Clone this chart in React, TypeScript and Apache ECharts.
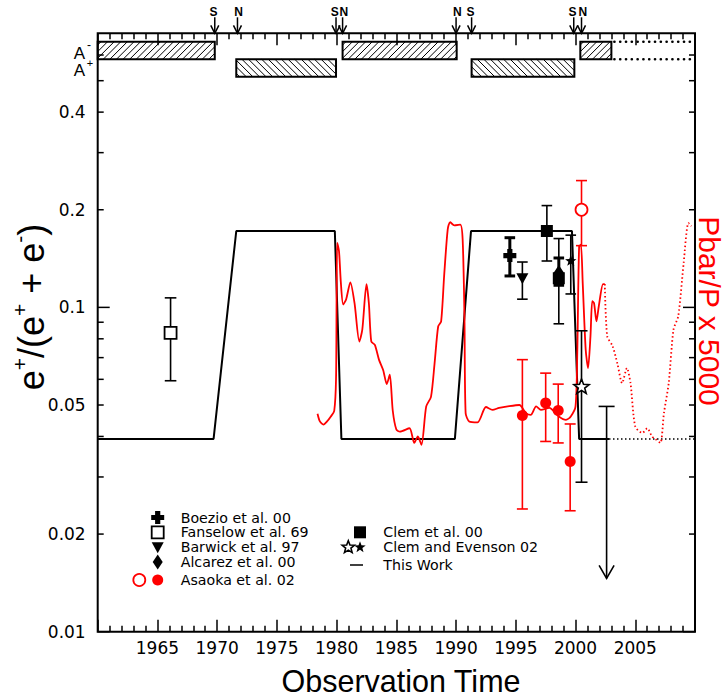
import React, { useEffect, useRef } from "react";
import * as echarts from "echarts";

const X_MIN = 1960;
const X_MAX = 2010;
const Y_MIN = 0.01;
const Y_MAX = 0.7;

const yLabelValues = [0.01, 0.02, 0.05, 0.1, 0.2, 0.4];
const yMajorTicks = [0.01, 0.1];
const yMinorTicks = [0.02, 0.03, 0.04, 0.05, 0.06, 0.07, 0.08, 0.09, 0.2, 0.3, 0.4, 0.5, 0.6];

// solar magnetic polarity epochs [start, end]
const aMinusEpochs = [[1960, 1969.8], [1980.5, 1990.05], [2000.4, 2003.0]];
const aPlusEpochs = [[1971.6, 1979.95], [1991.3, 1999.9]];
const aMinusProjected = [[2003.0, 2010]];
const sReversals = [1969.8, 1979.95, 1991.3, 1999.85];
const nReversals = [1971.7, 1980.5, 1990.0, 2000.5];

// This Work model
const thisWorkSolid = [
  [1960, 0.0393], [1969.7, 0.0393], [1971.6, 0.172], [1979.85, 0.172], [1980.4, 0.0393],
  [1989.9, 0.0393], [1991.25, 0.172], [1999.7, 0.172], [2000.3, 0.0393], [2002.8, 0.0393],
];
const thisWorkDotted = [[2002.8, 0.0393], [2010, 0.0393]];
const thisWorkLimit = [[2002.6, 0.0495, 0.0146]];

// Pbar/P x 5000
const pbarSolid = [
  [1978.4, 0.047], [1978.6, 0.0445], [1978.9, 0.0435], [1979.2, 0.0445], [1979.5, 0.046],
  [1979.8, 0.048], [1979.95, 0.06], [1980.0, 0.11], [1980.05, 0.158], [1980.2, 0.149],
  [1980.35, 0.12], [1980.55, 0.102], [1980.8, 0.106], [1981.15, 0.1195], [1981.5, 0.103],
  [1981.9, 0.0785], [1982.15, 0.0854], [1982.5, 0.118], [1982.7, 0.103], [1982.9, 0.0785],
  [1983.2, 0.0766], [1983.55, 0.0689], [1983.9, 0.064], [1984.2, 0.058], [1984.45, 0.062],
  [1984.7, 0.048], [1985.0, 0.042], [1985.3, 0.0414], [1986.1, 0.0424], [1986.5, 0.0382],
  [1986.8, 0.04], [1987.1, 0.0377], [1987.5, 0.0495], [1987.9, 0.053], [1988.2, 0.0672],
  [1988.5, 0.0873], [1988.75, 0.0906], [1989.0, 0.125], [1989.3, 0.174], [1989.5, 0.183],
  [1989.85, 0.179], [1990.35, 0.18], [1990.55, 0.162], [1990.7, 0.094], [1990.8, 0.0472],
  [1991.1, 0.0445], [1991.8, 0.0442], [1992.5, 0.0493], [1993.05, 0.0483], [1993.6, 0.049],
  [1994.45, 0.0496], [1995.3, 0.05], [1995.85, 0.0472], [1996.25, 0.0466], [1996.7, 0.0495],
  [1997.1, 0.0483], [1997.8, 0.049], [1998.6, 0.0461], [1999.2, 0.045], [1999.6, 0.0461],
  [2000.0, 0.0495], [2000.15, 0.074], [2000.3, 0.154], [2000.45, 0.156], [2000.6, 0.119],
  [2000.85, 0.074], [2001.05, 0.065], [2001.25, 0.0815], [2001.4, 0.1045], [2001.55, 0.103],
  [2001.75, 0.0906], [2001.95, 0.101], [2002.3, 0.118], [2002.45, 0.118],
];
const pbarDotted = [
  [2002.45, 0.118], [2002.65, 0.0815], [2003.1, 0.076], [2003.5, 0.0672], [2003.9, 0.0584],
  [2004.3, 0.065], [2004.6, 0.0584], [2005.0, 0.0429], [2005.6, 0.041], [2006.0, 0.0424],
  [2006.4, 0.04], [2006.7, 0.0392], [2007.1, 0.0382], [2007.4, 0.0472], [2007.8, 0.0584],
  [2008.2, 0.0854], [2008.6, 0.094], [2009.05, 0.137], [2009.45, 0.182], [2009.7, 0.178],
];

// measurements: [year, value, low, high]
const boezio = [[1994.5, 0.1445, 0.125, 0.164]];
const fanselow = [[1966.1, 0.0834, 0.0594, 0.107]];
const barwick = [[1995.55, 0.123, 0.106, 0.138]];
const alcaraz = [[1998.6, 0.128, 0.117, 0.142]];
const clem = [[1997.6, 0.172, 0.139, 0.206], [1998.6, 0.123, 0.089, 0.163]];
const clemEvensonFilled = [[1999.6, 0.139, 0.11, 0.167]];
const clemEvensonOpen = [[2000.5, 0.0568, 0.0289, 0.0847]];
const asaokaOpen = [[2000.5, 0.2, 0.155, 0.246]];
const asaokaFilled = [
  [1995.55, 0.0464, 0.0239, 0.069], [1997.5, 0.0507, 0.0386, 0.0627],
  [1998.55, 0.0481, 0.0382, 0.058], [1999.55, 0.0335, 0.0236, 0.0437],
];

const FONT = "'Liberation Sans', Arial, sans-serif";
const FONT_NUM = "'DejaVu Sans', sans-serif";
const RED = "#ff0000";

function starPoints(cx: number, cy: number, R: number, r: number) {
  const pts: number[][] = [];
  for (let i = 0; i < 10; i++) {
    const a = -Math.PI / 2 + (i * Math.PI) / 5;
    const rad = i % 2 === 0 ? R : r;
    pts.push([cx + rad * Math.cos(a), cy + rad * Math.sin(a)]);
  }
  return pts;
}

function marker(kind: string, cx: number, cy: number, z = 0): any {
  switch (kind) {
    case "plus": {
      const a = 6.5, t = 2.6;
      return {
        type: "polygon", z,
        shape: { points: [[cx - t, cy - a], [cx + t, cy - a], [cx + t, cy - t], [cx + a, cy - t], [cx + a, cy + t], [cx + t, cy + t], [cx + t, cy + a], [cx - t, cy + a], [cx - t, cy + t], [cx - a, cy + t], [cx - a, cy - t], [cx - t, cy - t]] },
        style: { fill: "#000" },
      };
    }
    case "squareOpen":
      return { type: "rect", z, shape: { x: cx - 6, y: cy - 6, width: 12, height: 12 }, style: { fill: "#fff", stroke: "#000", lineWidth: 1.8 } };
    case "squareFilled":
      return { type: "rect", z, shape: { x: cx - 6, y: cy - 6, width: 12, height: 12 }, style: { fill: "#000" } };
    case "triDown":
      return { type: "polygon", z, shape: { points: [[cx - 6, cy - 5], [cx + 6, cy - 5], [cx, cy + 6]] }, style: { fill: "#000" } };
    case "diamond":
      return { type: "polygon", z, shape: { points: [[cx, cy - 7.5], [cx + 5, cy], [cx, cy + 7.5], [cx - 5, cy]] }, style: { fill: "#000" } };
    case "starFilled":
      return { type: "polygon", z, shape: { points: starPoints(cx, cy, 6, 2.5) }, style: { fill: "#000" } };
    case "starOpen":
      return { type: "polygon", z, shape: { points: starPoints(cx, cy, 8, 3.4) }, style: { fill: "#fff", stroke: "#000", lineWidth: 1.6 } };
    case "circleOpenRed":
      return { type: "circle", z, shape: { cx, cy, r: 6 }, style: { fill: "#fff", stroke: RED, lineWidth: 1.8 } };
    case "circleFilledRed":
    default:
      return { type: "circle", z, shape: { cx, cy, r: 5.5 }, style: { fill: RED } };
  }
}

function errorBar(cx: number, yl: number, yh: number, color: string, w: number, cap: number) {
  const st = { stroke: color, lineWidth: w };
  return [
    { type: "line", shape: { x1: cx, y1: yl, x2: cx, y2: yh }, style: st },
    { type: "line", shape: { x1: cx - cap, y1: yl, x2: cx + cap, y2: yl }, style: st },
    { type: "line", shape: { x1: cx - cap, y1: yh, x2: cx + cap, y2: yh }, style: st },
  ];
}

function pointSeries(name: string, data: number[][], kind: string, color: string, w: number, cap: number, z: number) {
  return {
    type: "custom", name, data, clip: false, z,
    encode: { x: 0, y: 1 },
    renderItem: (params: any, api: any) => {
      const x = api.value(0);
      const [cx, cy] = api.coord([x, api.value(1)]);
      const yl = api.coord([x, api.value(2)])[1];
      const yh = api.coord([x, api.value(3)])[1];
      return { type: "group", children: [...errorBar(cx, yl, yh, color, w, cap), marker(kind, cx, cy)] };
    },
  };
}

function hatchBar(x0: number, x1: number, y0: number, y1: number, forward: boolean) {
  const out: any[] = [];
  const sp = 6.6;
  const st = { stroke: "#000", lineWidth: 1 };
  if (forward) {
    for (let c = x0 + y0 + sp / 2; c < x1 + y1; c += sp) {
      const ya = Math.max(y0, c - x1), yb = Math.min(y1, c - x0);
      if (yb > ya) out.push({ type: "line", shape: { x1: c - ya, y1: ya, x2: c - yb, y2: yb }, style: st });
    }
  } else {
    for (let c = x0 - y1 + sp / 2; c < x1 - y0; c += sp) {
      const ya = Math.max(y0, x0 - c), yb = Math.min(y1, x1 - c);
      if (yb > ya) out.push({ type: "line", shape: { x1: c + ya, y1: ya, x2: c + yb, y2: yb }, style: st });
    }
  }
  out.push({ type: "rect", shape: { x: x0, y: y0, width: x1 - x0, height: y1 - y0 }, style: { fill: "transparent", stroke: "#000", lineWidth: 2 } });
  return out;
}

function arrowSeries(years: number[], label: string, dx: number) {
  return {
    type: "custom", clip: false, z: 6,
    data: years.map((y) => [y, Y_MAX]),
    encode: { x: 0, y: 1 },
    renderItem: (params: any, api: any) => {
      const top = params.coordSys.y;
      const x = api.coord([api.value(0), Y_MAX])[0];
      return {
        type: "group",
        children: [
          { type: "text", style: { text: label, x: x + dx, y: top - 21, align: "center", verticalAlign: "middle", fontSize: 12, lineHeight: 12, fontFamily: FONT, fontWeight: "bold", fill: "#000" } },
          { type: "line", shape: { x1: x, y1: top - 16, x2: x, y2: top }, style: { stroke: "#000", lineWidth: 1.5 } },
          { type: "polyline", shape: { points: [[x - 4, top - 8], [x, top], [x + 4, top - 8]] }, style: { stroke: "#000", lineWidth: 1.5, fill: "none" } },
        ],
      };
    },
  };
}

function buildOption() {
  const legendText = (text: string, x: number, y: number, color = "#000") => ({
    type: "text", z: 50,
    style: { text, x, y, align: "left", verticalAlign: "middle", fontSize: 14.2, lineHeight: 14, fontFamily: FONT_NUM, fill: color },
  });
  const L1 = 157.7, T1 = 180.7, L2 = 360, T2 = 383.3;
  const graphic: any[] = [
    legendText("Boezio et al. 00", T1, 517.5),
    legendText("Fanselow et al. 69", T1, 532.3),
    legendText("Barwick et al. 97", T1, 547.3),
    legendText("Alcarez et al. 00", T1, 561.9),
    legendText("Asaoka et al. 02", T1, 580),
    legendText("Clem et al. 00", T2, 532.3),
    legendText("Clem and Evenson 02", T2, 547.3),
    legendText("This Work", T2, 565),
    marker("plus", L1, 517.5, 50),
    marker("squareOpen", L1, 532.3, 50),
    marker("triDown", L1, 547.3, 50),
    marker("diamond", L1, 561.9, 50),
    marker("circleOpenRed", 139.3, 580, 50),
    marker("circleFilledRed", L1, 580, 50),
    marker("squareFilled", L2, 532.3, 50),
    { ...marker("starOpen", 348.3, 547.3, 50), shape: { points: starPoints(348.3, 547.3, 6.5, 2.8) } },
    marker("starFilled", L2, 547.3, 50),
    { type: "line", z: 50, shape: { x1: 350, y1: 565, x2: 363, y2: 565 }, style: { stroke: "#000", lineWidth: 1.5 } },
    // axis titles
    {
      type: "text", z: 50,
      style: { text: "Observation Time", x: 401, y: 681, align: "center", verticalAlign: "middle", fontSize: 30.5, lineHeight: 26, fontFamily: FONT, fill: "#000" },
    },
    {
      type: "text", z: 50, x: 31, y: 307, rotation: Math.PI / 2,
      style: {
        text: "{b|e}{s|+}{b|/(e}{s|+}{b| + e}{s|-}{b|)}",
        align: "center", verticalAlign: "middle", fill: "#000",
        rich: {
          b: { fontSize: 36, fontFamily: FONT, lineHeight: 44, fill: "#000" },
          s: { fontSize: 21, fontFamily: FONT, lineHeight: 23, verticalAlign: "top", fill: "#000" },
        },
      },
    },
    {
      type: "text", z: 50, x: 709.5, y: 311, rotation: -Math.PI / 2,
      style: { text: "Pbar/P x 5000", align: "center", verticalAlign: "middle", fontSize: 30, lineHeight: 24, fontFamily: FONT, fill: RED },
    },
    // polarity labels
    { type: "text", z: 50, style: { text: "A", x: 79.5, y: 53, align: "center", verticalAlign: "middle", fontSize: 17, lineHeight: 14, fontFamily: FONT, fill: "#000" } },
    { type: "text", z: 50, style: { text: "-", x: 89, y: 45, align: "center", verticalAlign: "middle", fontSize: 12, lineHeight: 8, fontFamily: FONT, fill: "#000" } },
    { type: "text", z: 50, style: { text: "A", x: 79.5, y: 70.5, align: "center", verticalAlign: "middle", fontSize: 17, lineHeight: 14, fontFamily: FONT, fill: "#000" } },
    { type: "text", z: 50, style: { text: "+", x: 90, y: 62.5, align: "center", verticalAlign: "middle", fontSize: 11, lineHeight: 8, fontFamily: FONT, fill: "#000" } },
  ];

  const polarityData = [
    ...aMinusEpochs.map(([s, e]) => [s, e, Y_MAX, 0]),
    ...aPlusEpochs.map(([s, e]) => [s, e, Y_MAX, 1]),
  ];

  const axisCommon = {
    type: "value", min: X_MIN, max: X_MAX, interval: 5,
    axisLine: { show: false },
    splitLine: { show: false },
    axisTick: { show: true, inside: true, length: 12, lineStyle: { color: "#000", width: 1.5 } },
    minorTick: { show: true, splitNumber: 5, length: 6, lineStyle: { color: "#000", width: 1.5 } },
  };

  return {
    animation: false,
    backgroundColor: "#fff",
    grid: { left: 97.7, top: 33.3, right: 30, bottom: 66.3, show: true, borderColor: "#000", borderWidth: 2, backgroundColor: "transparent" },
    xAxis: [
      {
        ...axisCommon,
        position: "bottom",
        axisLabel: {
          show: true, margin: 8, color: "#000", fontSize: 17, fontFamily: FONT_NUM,
          formatter: (v: number) => (v === X_MIN || v === X_MAX ? "" : String(v)),
        },
      },
      { ...axisCommon, position: "top", axisLabel: { show: false } },
    ],
    yAxis: {
      type: "log", logBase: 10, min: Y_MIN, max: Y_MAX,
      axisLine: { show: false }, axisTick: { show: false }, axisLabel: { show: false }, splitLine: { show: false },
    },
    graphic,
    series: [
      {
        type: "custom", clip: false, z: 3,
        data: polarityData,
        encode: { x: [0, 1], y: 2 },
        renderItem: (params: any, api: any) => {
          const cs = params.coordSys;
          const x0 = api.coord([api.value(0), Y_MAX])[0];
          const x1 = api.coord([api.value(1), Y_MAX])[0];
          const row = api.value(3);
          const y0 = cs.y + (row === 0 ? 8.4 : 26);
          const y1 = cs.y + (row === 0 ? 26 : 43.4);
          return { type: "group", children: hatchBar(x0, x1, y0, y1, row === 0) };
        },
      },
      {
        type: "custom", clip: false, z: 3,
        data: aMinusProjected.map(([s, e]) => [s, e, Y_MAX]),
        encode: { x: [0, 1], y: 2 },
        renderItem: (params: any, api: any) => {
          const cs = params.coordSys;
          const x0 = api.coord([api.value(0), Y_MAX])[0];
          const x1 = api.coord([api.value(1), Y_MAX])[0];
          const st = { stroke: "#000", lineWidth: 2.6, lineDash: [0.1, 5.7], lineCap: "round" };
          return {
            type: "group",
            children: [
              { type: "line", shape: { x1: x0 + 3, y1: cs.y + 8.4, x2: x1, y2: cs.y + 8.4 }, style: st },
              { type: "line", shape: { x1: x0 + 3, y1: cs.y + 26, x2: x1, y2: cs.y + 26 }, style: st },
            ],
          };
        },
      },
      arrowSeries(sReversals, "S", -1.2),
      arrowSeries(nReversals, "N", 1.2),
      {
        // y ticks on both sides
        type: "custom", clip: false, z: 4,
        data: [...yMajorTicks.map((v) => [X_MIN, v, 1]), ...yMinorTicks.map((v) => [X_MIN, v, 0])],
        encode: { x: 0, y: 1 },
        renderItem: (params: any, api: any) => {
          const cs = params.coordSys;
          const y = api.coord([X_MIN, api.value(1)])[1];
          const len = api.value(2) ? 12 : 6;
          const st = { stroke: "#000", lineWidth: 1.5 };
          return {
            type: "group",
            children: [
              { type: "line", shape: { x1: cs.x, y1: y, x2: cs.x + len, y2: y }, style: st },
              { type: "line", shape: { x1: cs.x + cs.width - len, y1: y, x2: cs.x + cs.width, y2: y }, style: st },
            ],
          };
        },
      },
      {
        // y labels
        type: "custom", clip: false, z: 4,
        data: yLabelValues.map((v) => [X_MIN, v]),
        encode: { x: 0, y: 1 },
        renderItem: (params: any, api: any) => {
          const cs = params.coordSys;
          const v = api.value(1);
          const y = api.coord([X_MIN, v])[1];
          return {
            type: "text",
            style: { text: String(v), x: cs.x - 12, y, align: "right", verticalAlign: "middle", fontSize: 17, fontFamily: FONT_NUM, fill: "#000" },
          };
        },
      },
      {
        name: "This Work", type: "line", z: 3, data: thisWorkSolid, showSymbol: false, symbol: "none",
        lineStyle: { color: "#000", width: 2 },
      },
      {
        type: "line", z: 3, data: thisWorkDotted, showSymbol: false, symbol: "none",
        lineStyle: { color: "#000", width: 1.5, type: [1.5, 2.5] },
      },
      {
        name: "Pbar/P", type: "line", z: 4, data: pbarSolid, showSymbol: false, symbol: "none", smooth: 0.25,
        lineStyle: { color: RED, width: 1.8 },
      },
      {
        type: "line", z: 4, data: pbarDotted, showSymbol: false, symbol: "none", smooth: 0.25,
        lineStyle: { color: RED, width: 1.8, type: [1.5, 2.5] },
      },
      {
        type: "custom", clip: false, z: 5, data: thisWorkLimit,
        encode: { x: 0, y: 1 },
        renderItem: (params: any, api: any) => {
          const x = api.value(0);
          const [cx, yc] = api.coord([x, api.value(1)]);
          const yt = api.coord([x, api.value(2)])[1];
          const st = { stroke: "#000", lineWidth: 1.6 };
          return {
            type: "group",
            children: [
              { type: "line", shape: { x1: cx - 8, y1: yc, x2: cx + 8, y2: yc }, style: st },
              { type: "line", shape: { x1: cx, y1: yc, x2: cx, y2: yt }, style: st },
              { type: "polyline", shape: { points: [[cx - 7.5, yt - 13], [cx, yt], [cx + 7.5, yt - 13]] }, style: { ...st, fill: "none" } },
            ],
          };
        },
      },
      pointSeries("Fanselow et al. 69", fanselow, "squareOpen", "#000", 1.6, 5.8, 6),
      pointSeries("Asaoka et al. 02 (filled)", asaokaFilled, "circleFilledRed", RED, 1.6, 5.5, 6),
      pointSeries("Barwick et al. 97", barwick, "triDown", "#000", 1.6, 5.3, 6),
      pointSeries("Clem et al. 00", clem, "squareFilled", "#000", 1.6, 5.3, 6),
      pointSeries("Boezio et al. 00", boezio, "plus", "#000", 3, 5.3, 7),
      pointSeries("Alcarez et al. 00", alcaraz, "diamond", "#000", 3, 5.3, 7),
      pointSeries("Clem and Evenson 02 (filled)", clemEvensonFilled, "starFilled", "#000", 1.6, 5.3, 6),
      pointSeries("Clem and Evenson 02 (open)", clemEvensonOpen, "starOpen", "#000", 1.6, 6, 7),
      pointSeries("Asaoka et al. 02 (open)", asaokaOpen, "circleOpenRed", RED, 1.6, 5.5, 7),
    ],
  };
}

export default function App() {
  const ref = useRef<HTMLDivElement>(null);
  useEffect(() => {
    if (!ref.current) return;
    const chart = echarts.init(ref.current, null, { renderer: "svg" });
    chart.setOption(buildOption() as any);
    return () => chart.dispose();
  }, []);
  return <div ref={ref} style={{ position: "absolute", left: 0, top: 0, width: 725, height: 698, background: "#fff" }} />;
}
